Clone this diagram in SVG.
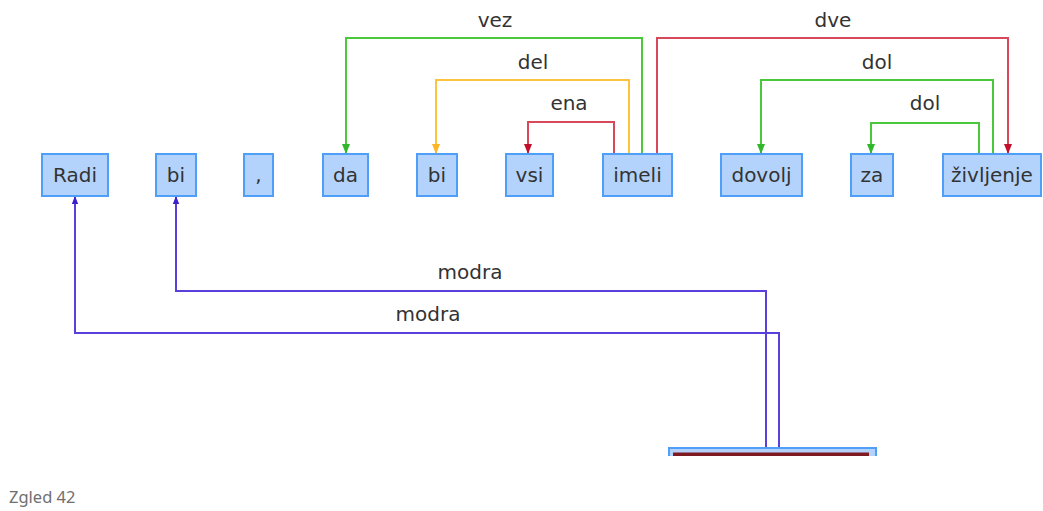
<svg xmlns="http://www.w3.org/2000/svg" width="1043" height="511" viewBox="0 0 1043 511">
<style>
.box{fill:#b4d3fc;stroke:#4f9ef8;stroke-width:2}
.t{font-family:"DejaVu Sans",sans-serif;font-size:20px;fill:#333;text-anchor:middle}
.e{fill:none;stroke-width:2}
.g{stroke:#48c83a}
.o{stroke:#fdc23e}
.r{stroke:#d9475b}
.b{stroke:#5a3fdc}
.cap{font-family:"Noto Sans",sans-serif;font-size:16.5px;fill:#6f6f6f}
</style>
<defs>
<marker id="ag" viewBox="0 0 10 10" refX="10" refY="5" markerUnits="userSpaceOnUse" markerWidth="10" markerHeight="10" orient="auto"><path d="M0,1 L10,5 L0,9 z" fill="#2fb82a"/></marker>
<marker id="ao" viewBox="0 0 10 10" refX="10" refY="5" markerUnits="userSpaceOnUse" markerWidth="10" markerHeight="10" orient="auto"><path d="M0,1 L10,5 L0,9 z" fill="#fbb622"/></marker>
<marker id="ar" viewBox="0 0 10 10" refX="10" refY="5" markerUnits="userSpaceOnUse" markerWidth="10" markerHeight="10" orient="auto"><path d="M0,1 L10,5 L0,9 z" fill="#c2102c"/></marker>
<marker id="ab" viewBox="0 0 10 10" refX="10" refY="5" markerUnits="userSpaceOnUse" markerWidth="8" markerHeight="8" orient="auto"><path d="M0,1 L10,5 L0,9 z" fill="#3a1fd0"/></marker>
<clipPath id="clip"><rect x="0" y="0" width="1043" height="456"/></clipPath>
</defs>
<g id="connectors">
<path class="e g" d="M642,154 V38 H346 V154" marker-end="url(#ag)"/>
<path class="e o" d="M629,154 V80 H436 V154" marker-end="url(#ao)"/>
<path class="e r" d="M614,154 V122 H528 V154" marker-end="url(#ar)"/>
<path class="e r" d="M657,154 V38 H1008 V154" marker-end="url(#ar)"/>
<path class="e g" d="M993,154 V80 H761 V154" marker-end="url(#ag)"/>
<path class="e g" d="M979,154 V123 H871 V154" marker-end="url(#ag)"/>
<path class="e b" d="M766,448 V291 H176 V196" marker-end="url(#ab)"/>
<path class="e b" d="M779,448 V333 H75 V196" marker-end="url(#ab)"/>
<text class="t" x="495" y="27">vez</text>
<text class="t" x="533" y="69">del</text>
<text class="t" x="569" y="110">ena</text>
<text class="t" x="833" y="27">dve</text>
<text class="t" x="877" y="69">dol</text>
<text class="t" x="925" y="110">dol</text>
<text class="t" x="470" y="279">modra</text>
<text class="t" x="428" y="321">modra</text>
</g>
<g id="n-radi"><rect class="box" x="42" y="154" width="66" height="42"/><text class="t" x="75" y="182">Radi</text></g>
<g id="n-bi1"><rect class="box" x="156" y="154" width="40" height="42"/><text class="t" x="176" y="182">bi</text></g>
<g id="n-comma"><rect class="box" x="244" y="154" width="29" height="42"/><text class="t" x="258.5" y="182">,</text></g>
<g id="n-da"><rect class="box" x="323" y="154" width="45" height="42"/><text class="t" x="345.5" y="182">da</text></g>
<g id="n-bi2"><rect class="box" x="417" y="154" width="40" height="42"/><text class="t" x="437" y="182">bi</text></g>
<g id="n-vsi"><rect class="box" x="506" y="154" width="47" height="42"/><text class="t" x="529.5" y="182">vsi</text></g>
<g id="n-imeli"><rect class="box" x="603" y="154" width="69" height="42"/><text class="t" x="637.5" y="182">imeli</text></g>
<g id="n-dovolj"><rect class="box" x="721" y="154" width="81" height="42"/><text class="t" x="761.5" y="182">dovolj</text></g>
<g id="n-za"><rect class="box" x="851" y="154" width="42" height="42"/><text class="t" x="872" y="182">za</text></g>
<g id="n-zivljenje"><rect class="box" x="943" y="154" width="98" height="42"/><text class="t" x="992" y="182">življenje</text></g>
<g id="n-bottom" clip-path="url(#clip)">
<rect class="box" x="669" y="448" width="207" height="30"/>
<rect x="673" y="452.5" width="196" height="20" fill="#7d1a22"/>
</g>
<text class="cap" x="9" y="503">Zgled 42</text>
</svg>
